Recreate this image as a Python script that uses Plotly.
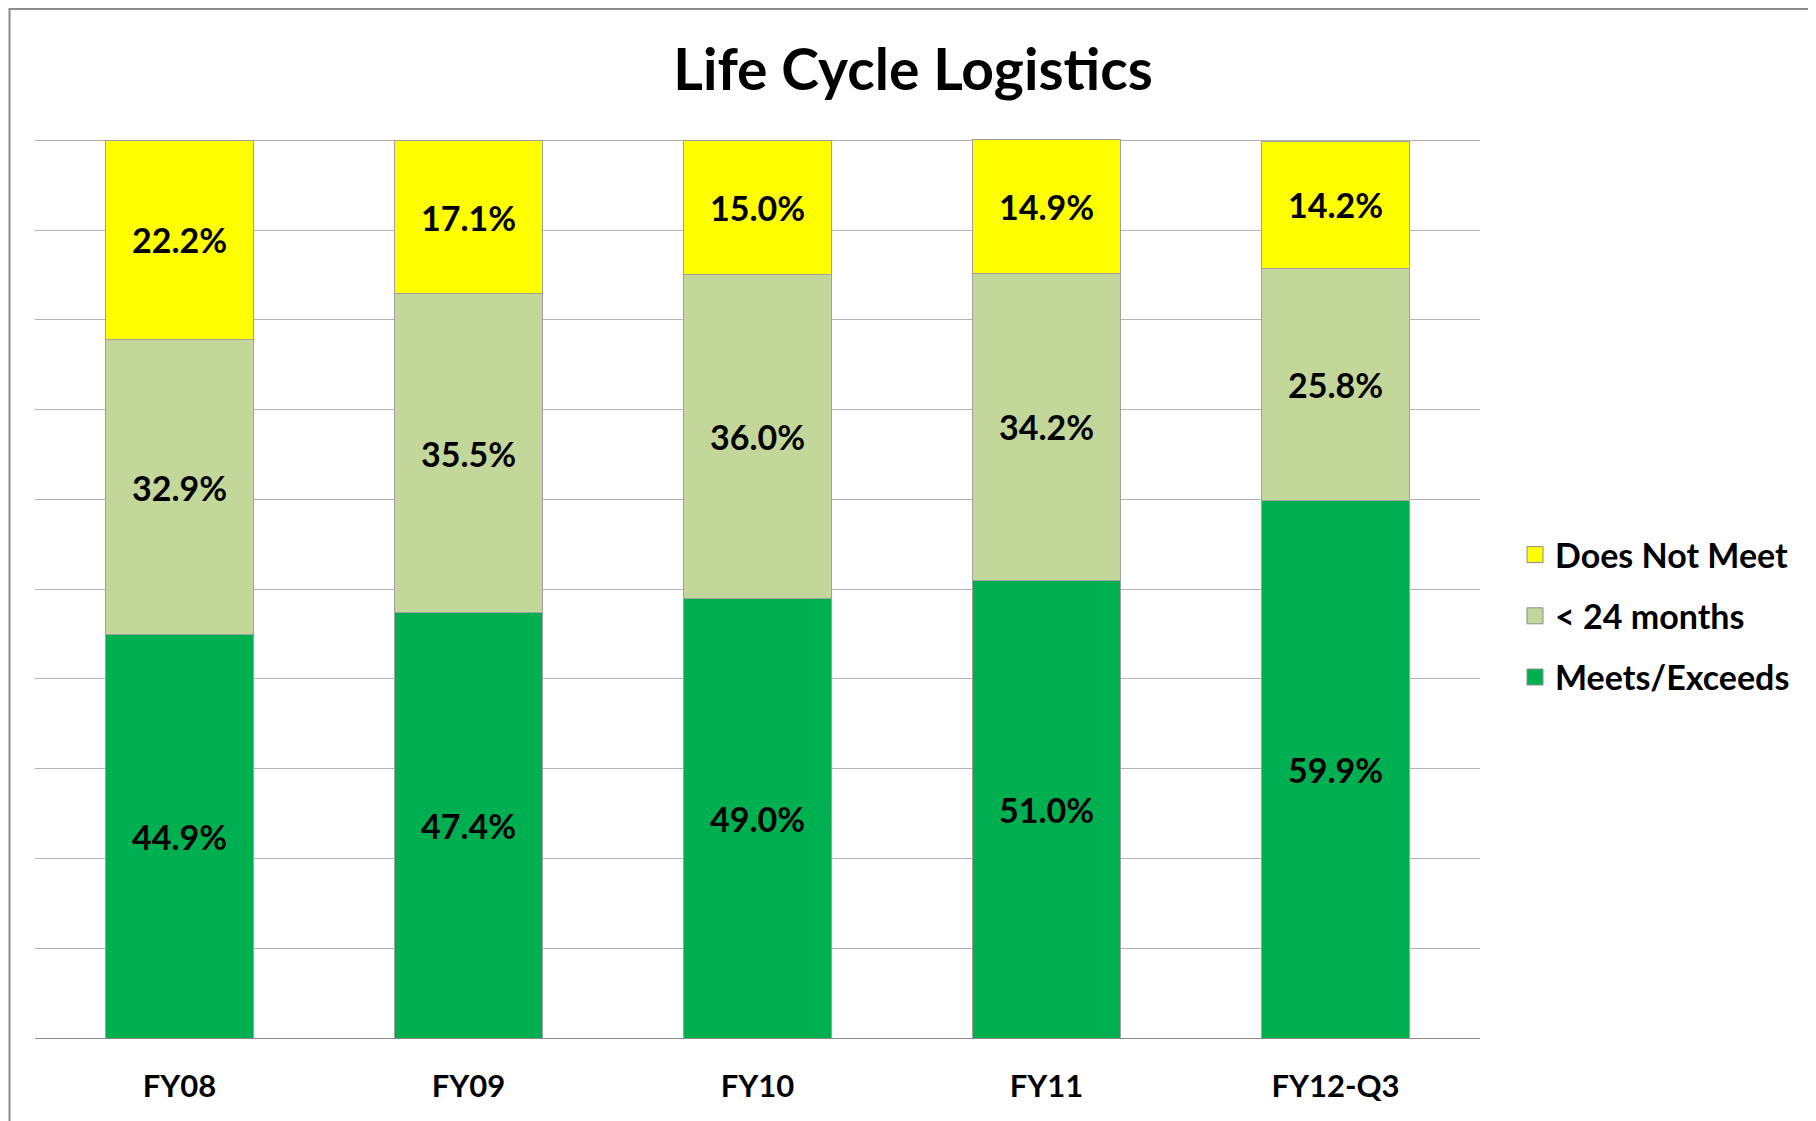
import plotly.graph_objects as go

categories = ["FY08", "FY09", "FY10", "FY11", "FY12-Q3"]
meets_exceeds = [44.9, 47.4, 49.0, 51.0, 59.9]
under_24_months = [32.9, 35.5, 36.0, 34.2, 25.8]
does_not_meet = [22.2, 17.1, 15.0, 14.9, 14.2]
y_ticks = [0, 10, 20, 30, 40, 50, 60, 70, 80, 90, 100]

OFF = 8  # browser body margin
W, H = 1816 - OFF, 1121 - OFF
ML, MR, MT, MB = 35 - OFF, 336, 139 - OFF, 83
pw, ph = W - ML - MR, H - MT - MB


def px(xpage):
    return (xpage - OFF - ML) / pw


def py(ypage):
    return 1 - (ypage - OFF - MT) / ph


FONT = "Lato"
edge = dict(color="#A0A0A0", width=1)

fig = go.Figure()
series = [
    ("Meets/Exceeds", meets_exceeds, "#00B050"),
    ("< 24 months", under_24_months, "#C4D79B"),
    ("Does Not Meet", does_not_meet, "#FFFF00"),
]
for name, vals, col in series:
    fig.add_trace(go.Bar(
        x=categories, y=vals, name=name, showlegend=False,
        marker=dict(color=col, line=edge),
        text=[f"{v:.1f}%" for v in vals],
        textposition="inside", insidetextanchor="middle",
        textfont=dict(family=FONT, size=34, color="black", weight="bold"),
        constraintext="none", hoverinfo="skip",
    ))
for name, vals, col in reversed(series):
    fig.add_trace(go.Scatter(
        x=[None], y=[None], mode="markers", name=name, legendgroup=name,
        marker=dict(symbol="square", size=16, color=col, line=dict(color="#8C8C8C", width=1)),
        hoverinfo="skip",
    ))

fig.update_layout(
    width=W, height=H,
    margin=dict(l=ML, r=MR, t=MT, b=MB, autoexpand=False),
    barmode="stack", bargap=0.487,
    plot_bgcolor="white", paper_bgcolor="white",
    title=dict(text="Life Cycle Logistics", xref="paper", x=px(913), xanchor="center",
               yref="container", y=1 - (70 - OFF) / H, yanchor="middle",
               font=dict(family=FONT, size=57, color="black", weight="bold")),
    legend=dict(x=px(1515), xanchor="left", y=py(526), yanchor="top",
                traceorder="grouped", tracegroupgap=14,
                font=dict(family=FONT, size=34, color="black", weight="bold"),
                bgcolor="rgba(0,0,0,0)"),
    showlegend=True,
)
fig.update_yaxes(range=[0, 100.15], tickvals=y_ticks, showticklabels=False,
                 showgrid=True, gridcolor="#B3B3B3", gridwidth=1, zeroline=False,
                 showline=False, fixedrange=True)
fig.update_xaxes(showline=True, linecolor="#8C8C8C", linewidth=1, ticks="",
                 ticklabelstandoff=21,
                 tickfont=dict(family=FONT, size=31, color="black", weight="bold"),
                 fixedrange=True)
fig.add_shape(type="rect", xref="paper", yref="paper",
              x0=px(9.5), x1=1.3, y0=-0.3, y1=py(9),
              line=dict(color="#8A8A8A", width=2), fillcolor="rgba(0,0,0,0)", layer="below")
fig.write_html("out.html")
